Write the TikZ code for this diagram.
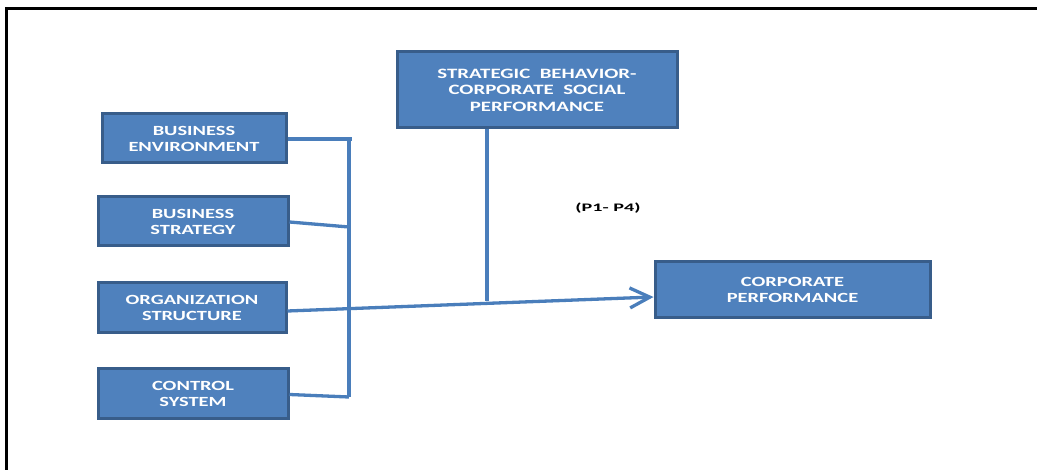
\documentclass[tikz,border=0pt]{standalone}
\usepackage{fontspec}
\setmainfont{Carlito}[FakeStretch=1.46]
\newfontfamily\pfont{Carlito}[FakeStretch=1.75]
\usetikzlibrary{arrows.meta}
\definecolor{boxfill}{HTML}{4F81BD}
\definecolor{boxline}{HTML}{385D8A}
\definecolor{conn}{HTML}{4A7EBB}
\tikzset{
  box/.style={draw=boxline, line width=3pt, fill=boxfill, text=white,
    font=\fontsize{14}{16}\selectfont\bfseries, align=center, inner sep=0pt},
  conline/.style={draw=conn, line width=3.3pt},
}
\begin{document}
\begin{tikzpicture}[x=1pt,y=-1pt]
\useasboundingbox (0,0) rectangle (1037,470);
\draw[line width=3pt, black] (6,471) -- (6,9) -- (1038,9);
% boxes
\node[box, minimum width=184pt, minimum height=49pt] (be) at (194,138.5) {BUSINESS\\ENVIRONMENT};
\node[box, minimum width=190pt, minimum height=49pt] (bs) at (193,221.5) {BUSINESS\\STRATEGY};
\node[box, minimum width=188pt, minimum height=50pt] (os) at (192,308) {ORGANIZATION\\STRUCTURE};
\node[box, minimum width=190pt, minimum height=50pt] (cs) at (193,394) {CONTROL\\SYSTEM};
\node[box, minimum width=280pt, minimum height=76pt, font=\fontsize{14.3}{16.5}\selectfont\bfseries] (sb) at (537,90) {STRATEGIC~~BEHAVIOR-\\CORPORATE~~SOCIAL\\PERFORMANCE};
\node[box, minimum width=275pt, minimum height=56pt] (cp) at (792.5,289.5) {CORPORATE\\PERFORMANCE};
\node[font=\pfont\fontsize{11.5}{13}\selectfont\bfseries] (p) at (608,208) {(P1- P4)};
% connectors
\coordinate (bartop) at (349,137);
\coordinate (barbot) at (349,397);
\coordinate (j1) at (352,139);
\coordinate (j2) at (349,227);
\coordinate (j4) at (349,397);
\coordinate (sbj) at (487,301);
\draw[conline] (bartop) -- (barbot);
\draw[conline] (be.east |- j1) -- (j1);
\draw[conline] ([yshift=-0.5pt]bs.east) -- (j2);
\draw[conline] ([yshift=-0.5pt]cs.east) -- (j4);
\draw[conline] (sb.south -| sbj) -- (sbj);
\draw[conline, -{Straight Barb[length=20pt,width=20pt,line width=3.3pt]}] ([yshift=-3pt]os.east) -- (cp.west |- 0,297);
\end{tikzpicture}
\end{document}
